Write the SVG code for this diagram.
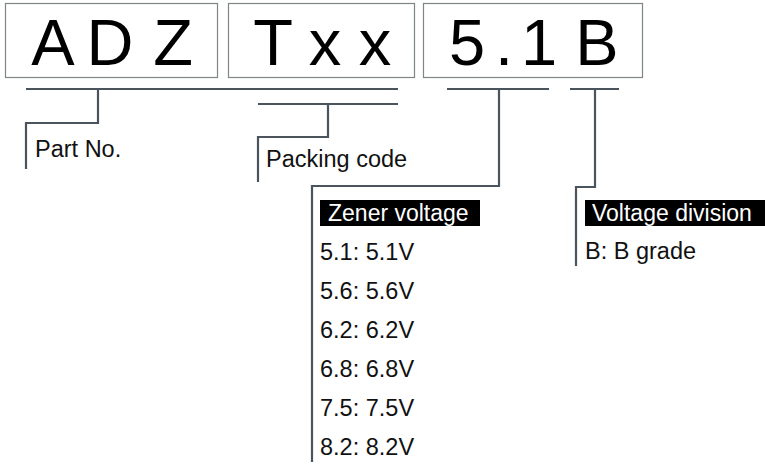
<svg xmlns="http://www.w3.org/2000/svg" width="765" height="464" viewBox="0 0 765 464">
<style>
.box{fill:#fff;stroke:#7f8487;stroke-width:1.2}
.big{font-family:"Liberation Sans",Arial,sans-serif;font-size:65px;fill:#000;text-anchor:middle}
.t{font-family:"Liberation Sans",Arial,sans-serif;font-size:23.5px;fill:#111}
.w{font-family:"Liberation Sans",Arial,sans-serif;font-size:23px;fill:#fff}
.ln{fill:none;stroke:#4b545c;stroke-width:2.2;stroke-linejoin:miter}
</style>
<rect width="765" height="464" fill="#fff"/>
<g id="box-adz"><rect class="box" x="5.5" y="3.5" width="212" height="74"/><text class="big" x="53 110 173" y="65">ADZ</text></g>
<g id="box-txx"><rect class="box" x="228.5" y="3.5" width="186" height="74"/><text class="big" x="273 325 375" y="65">Txx</text></g>
<g id="box-51b"><rect class="box" x="423.5" y="3.5" width="219" height="74"/><text class="big" x="467 504 539 597" y="65">5.1B</text></g>
<g id="connectors">
<path class="ln" d="M26 89H398M98 89V123H26V169"/>
<path class="ln" d="M258 104H398M328 104V137H258V182"/>
<path class="ln" d="M447 89H549M499 89V186H312V462"/>
<path class="ln" d="M570 89H619M595 89V187H576V266"/>
</g>
<g id="part-no"><text class="t" x="35" y="157">Part No.</text></g>
<g id="packing-code"><text class="t" x="266" y="167">Packing code</text></g>
<g id="zener-voltage">
<rect x="320" y="200" width="160" height="26" fill="#000"/>
<text class="w" x="328" y="221">Zener voltage</text>
<text class="t" x="320" y="260">5.1: 5.1V</text>
<text class="t" x="320" y="299">5.6: 5.6V</text>
<text class="t" x="320" y="338">6.2: 6.2V</text>
<text class="t" x="320" y="377">6.8: 6.8V</text>
<text class="t" x="320" y="416">7.5: 7.5V</text>
<text class="t" x="320" y="455">8.2: 8.2V</text>
</g>
<g id="voltage-division">
<rect x="585" y="200" width="180" height="26" fill="#000"/>
<text class="w" x="592" y="221">Voltage division</text>
<text class="t" x="585" y="259">B: B grade</text>
</g>
</svg>
